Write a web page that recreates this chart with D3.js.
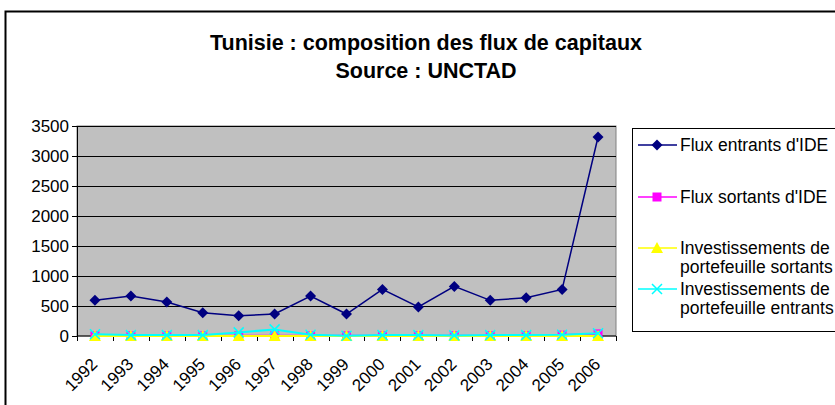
<!DOCTYPE html>
<html>
<head>
<meta charset="utf-8">
<script src="https://cdn.jsdelivr.net/npm/d3@7"></script>
<style>
  body { margin: 0; background: #fff; }
  text { font-family: "Liberation Sans", Arial, sans-serif; }
</style>
</head>
<body>
<div id="chart"></div>
<script>
// data
var years = ["1992", "1993", "1994", "1995", "1996", "1997", "1998", "1999", "2000", "2001", "2002", "2003", "2004", "2005", "2006"];
var fluxEntrants = [594, 666, 566, 388, 338, 366, 666, 366, 777, 483, 827, 594, 638, 777, 3317];
var fluxSortants = [5, 3, 2, 3, 5, 5, 3, 3, 3, 5, 5, 5, 5, 15, 35];
var portSortants = [0, 0, 0, 0, 0, 0, 0, 0, 0, 0, 0, 0, 0, 0, 0];
var portEntrants = [30, 15, 15, 15, 60, 110, 20, 5, 15, 15, 10, 15, 15, 20, 45];
var yTicks = [0, 500, 1000, 1500, 2000, 2500, 3000, 3500];

var series = [
    { name: ["Flux entrants d'IDE"], values: fluxEntrants, color: "#000080", symbol: "diamond" },
    { name: ["Flux sortants d'IDE"], values: fluxSortants, color: "#FF00FF", symbol: "square" },
    { name: ["Investissements de", "portefeuille sortants"], values: portSortants, color: "#FFFF00", symbol: "triangle" },
    { name: ["Investissements de", "portefeuille entrants"], values: portEntrants, color: "#00FFFF", symbol: "x" }
];

var W = 835, H = 405;
var margin = { left: 77, right: 219, top: 126, bottom: 69 };
var width = W - margin.left - margin.right;
var height = H - margin.top - margin.bottom;

var svg = d3.select("#chart").append("svg")
    .attr("width", W)
    .attr("height", H);

// outer chart border
svg.append("rect")
    .attr("x", 5.5).attr("y", 11.5)
    .attr("width", W + 10).attr("height", H + 10)
    .attr("fill", "#fff")
    .attr("stroke", "#000")
    .attr("stroke-width", 2);

// title
var title = svg.append("text")
    .attr("text-anchor", "middle")
    .attr("font-size", "21.5px")
    .attr("font-weight", "bold");
title.append("tspan").attr("x", 426).attr("y", 50).text("Tunisie : composition des flux de capitaux");
title.append("tspan").attr("x", 426).attr("y", 78).text("Source : UNCTAD");

var g = svg.append("g")
    .attr("transform", "translate(" + margin.left + "," + margin.top + ")");

var x = d3.scaleBand().domain(years).range([0, width]);
var y = d3.scaleLinear().domain([0, 3500]).range([height, 0]);

// plot area
g.append("rect")
    .attr("width", width).attr("height", height)
    .attr("fill", "#C0C0C0")
    .attr("stroke", "#808080");

// gridlines
g.selectAll(".grid").data(yTicks.slice(1))
    .enter().append("line")
    .attr("class", "grid")
    .attr("x1", 0).attr("x2", width)
    .attr("y1", function (d) { return Math.round(y(d)) + 0.5; })
    .attr("y2", function (d) { return Math.round(y(d)) + 0.5; })
    .attr("stroke", "#000")
    .attr("stroke-width", 1);

// y axis
var yAxis = g.append("g")
    .call(d3.axisLeft(y).tickValues(yTicks).tickFormat(d3.format("d")).tickSize(5).tickSizeOuter(0));
yAxis.select(".domain").attr("stroke", "#000");
yAxis.selectAll("text")
    .attr("font-size", "17px")
    .attr("font-family", "Liberation Sans, Arial, sans-serif")
    .attr("fill", "#000");

// x axis: ticks at category boundaries
var xAxisG = g.append("g").attr("transform", "translate(0," + height + ")");
xAxisG.append("line")
    .attr("x1", 0).attr("x2", width)
    .attr("stroke", "#000");
xAxisG.selectAll(".xt").data(d3.range(years.length + 1))
    .enter().append("line")
    .attr("class", "xt")
    .attr("x1", function (i) { return Math.round(i * x.step()) + 0.5; })
    .attr("x2", function (i) { return Math.round(i * x.step()) + 0.5; })
    .attr("y1", 0).attr("y2", 5)
    .attr("stroke", "#000");
xAxisG.selectAll(".xl").data(years)
    .enter().append("text")
    .attr("class", "xl")
    .attr("transform", function (d) {
        return "translate(" + (x(d) + x.bandwidth() / 2 - 5) + ",21) rotate(-45)";
    })
    .attr("text-anchor", "end")
    .attr("dy", "0.7em")
    .attr("font-size", "17px")
    .text(function (d) { return d; });

var line = d3.line()
    .x(function (d, i) { return x(years[i]) + x.bandwidth() / 2; })
    .y(function (d) { return y(d); });

function drawMarker(sel, symbol, color) {
    if (symbol === "x") {
        sel.append("path")
            .attr("d", "M-5,-5L5,5M-5,5L5,-5")
            .attr("stroke", color).attr("stroke-width", 1.5).attr("fill", "none");
    } else if (symbol === "diamond") {
        sel.append("path").attr("d", "M0,-5.5L5.5,0L0,5.5L-5.5,0Z").attr("fill", color);
    } else if (symbol === "square") {
        sel.append("rect").attr("x", -4.5).attr("y", -4.5).attr("width", 9).attr("height", 9).attr("fill", color);
    } else {
        sel.append("path").attr("d", "M0,-6L6,5L-6,5Z").attr("fill", color);
    }
}

// draw in series order, like the spreadsheet does
[0, 1, 2, 3].forEach(function (k) {
    var s = series[k];
    g.append("path")
        .datum(s.values)
        .attr("fill", "none")
        .attr("stroke", s.color)
        .attr("stroke-width", k === 0 ? 1.5 : 2)
        .attr("d", line);
    g.selectAll(".m" + k).data(s.values)
        .enter().append("g")
        .attr("class", "m" + k)
        .attr("transform", function (d, i) {
            return "translate(" + (x(years[i]) + x.bandwidth() / 2) + "," + y(d) + ")";
        })
        .each(function () { drawMarker(d3.select(this), s.symbol, s.color); });
});

// legend
var lg = svg.append("g").attr("transform", "translate(632,128)");
lg.append("rect")
    .attr("x", 0.5).attr("y", 0.5)
    .attr("width", 240).attr("height", 203)
    .attr("fill", "#fff")
    .attr("stroke", "#000");
var legendY = [17, 69, 120, 161];
series.forEach(function (s, k) {
    var row = lg.append("g").attr("transform", "translate(0," + legendY[k] + ")");
    row.append("line")
        .attr("x1", 6).attr("x2", 45)
        .attr("stroke", s.color).attr("stroke-width", 1.5);
    var m = row.append("g").attr("transform", "translate(25,0)");
    drawMarker(m, s.symbol, s.color);
    var t = row.append("text")
        .attr("font-size", "17.5px")
        .attr("fill", "#000");
    s.name.forEach(function (line, j) {
        t.append("tspan")
            .attr("x", 48)
            .attr("y", j * 19)
            .attr("dy", "0.35em")
            .text(line);
    });
});
</script>
</body>
</html>
